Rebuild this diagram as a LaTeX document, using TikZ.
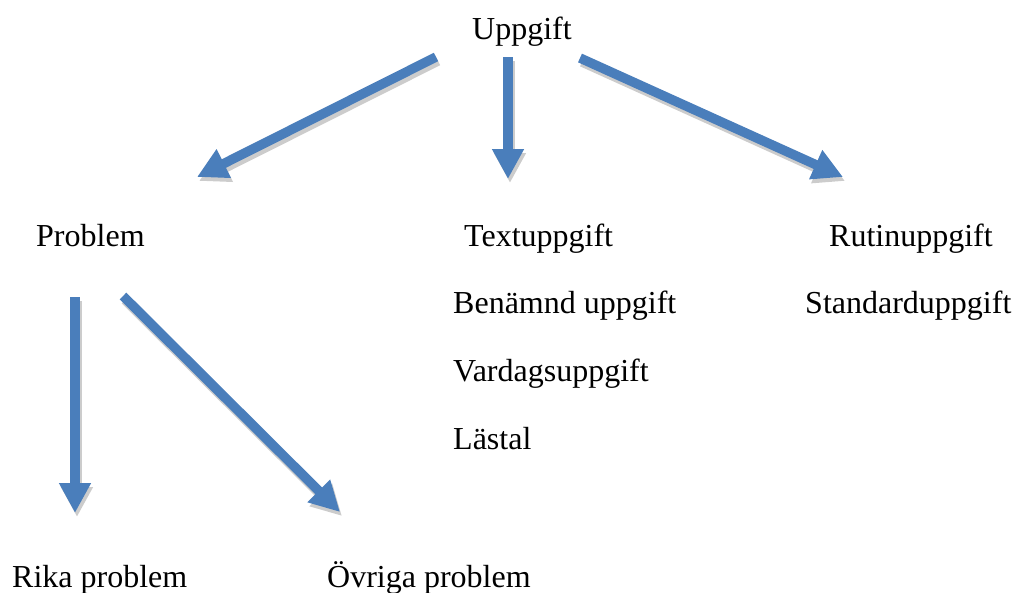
\documentclass[tikz,border=0pt]{standalone}
\usepackage{fontspec}
\setmainfont{Liberation Serif}
\usetikzlibrary{arrows.meta}
\definecolor{pilbla}{HTML}{4A7EBB}
\tikzset{
  etikett/.style={anchor=base west, inner sep=0pt, font=\fontsize{32}{38}\selectfont},
  pil/.style={draw=pilbla, line width=9.5pt, -{Triangle[width=30pt,length=30pt]}},
  skugga/.style={draw=black!20, line width=9.5pt, -{Triangle[width=30pt,length=30pt]},
    transform canvas={shift={(2pt,-4pt)}}}
}
\begin{document}
\begin{tikzpicture}[x=1pt,y=-1pt]
  \useasboundingbox (0,0) rectangle (1012,592);

  % texter
  \node[etikett] (uppgift) at (472,39) {Uppgift};
  \node[etikett] (problem) at (36,246) {Problem};
  \node[etikett] (text) at (464,246) {Textuppgift};
  \node[etikett] (rutin) at (829,246) {Rutinuppgift};
  \node[etikett] (benamnd) at (453,313) {Benämnd uppgift};
  \node[etikett] (standard) at (805,313) {Standarduppgift};
  \node[etikett] (vardag) at (453,381) {Vardagsuppgift};
  \node[etikett] (lastal) at (453,449) {Lästal};
  \node[etikett] (rika) at (12,587) {Rika problem};
  \node[etikett] (ovriga) at (327,587) {Övriga problem};

  % pilarnas ändpunkter
  \coordinate (u1) at (436,57);  \coordinate (p1) at (197,177);
  \coordinate (u2) at (508,57);  \coordinate (p2) at (508,179);
  \coordinate (u3) at (580,58);  \coordinate (p3) at (843,177);
  \coordinate (u4) at (75,297);  \coordinate (p4) at (75,513);
  \coordinate (u5) at (123,296); \coordinate (p5) at (340,512);

  \foreach \a/\b in {u1/p1,u2/p2,u3/p3,u4/p4,u5/p5}{
    \draw[skugga] (\a) -- (\b);
    \draw[pil] (\a) -- (\b);
  }

\end{tikzpicture}
\end{document}
